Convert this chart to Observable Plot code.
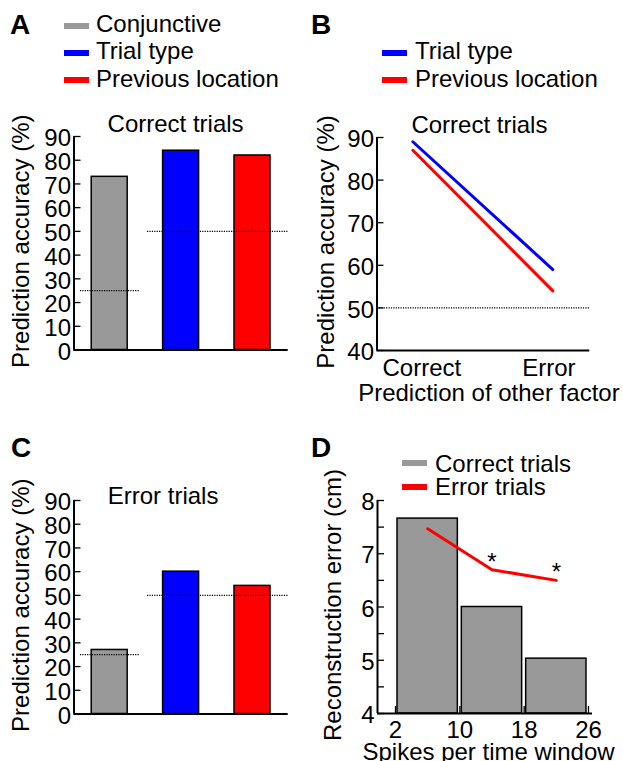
<!DOCTYPE html>
<html><head><meta charset="utf-8">
<script src="https://cdn.jsdelivr.net/npm/d3@7"></script>
<script src="https://cdn.jsdelivr.net/npm/@observablehq/plot@0.6"></script>
<style>
html,body{margin:0;padding:0;background:#fff;}
#root{position:relative;width:623px;height:761px;overflow:hidden;font-family:"Liberation Sans",Arial,sans-serif;color:#000;}
.letter{position:absolute;font-weight:bold;font-size:28px;line-height:28px;}
.leg{position:absolute;font-size:24px;line-height:24px;white-space:nowrap;}
.sw{position:absolute;width:25px;height:6px;}
svg{overflow:visible;}
</style></head><body><div id="root"></div>
<script>
// ---- Data ----
const factors = ["Conjunctive", "Trial type", "Previous location"];
const factorColors = ["#999999", "#0000ff", "#ff0000"];
const correctTrialAcc = [73, 84, 82];
const errorTrialAcc = [27, 60, 54];
const chanceSegments = [
  {level: 25, from: 0.59, to: 1.43},
  {level: 50, from: 1.53, to: 3.5}
];
const accTicks = [0, 10, 20, 30, 40, 50, 60, 70, 80, 90];

const otherFactor = ["Correct", "Error"];
const trialTypeAcc = [89, 59];
const prevLocationAcc = [87, 54];
const bTicks = [40, 50, 60, 70, 80, 90];
const bChance = [50];

const spikeBins = [[2, 10], [10, 18], [18, 26]];
const spikeTicks = [2, 10, 18, 26];
const correctRecon = [7.66, 6.0, 5.03];
const errorRecon = [7.47, 6.7, 6.5];
const significant = [false, true, true];
const reconTicks = [4, 4.5, 5, 5.5, 6, 6.5, 7, 7.5, 8];

const FONT = '"Liberation Sans", Arial, sans-serif';
const root = document.getElementById("root");
const baseStyle = {fontFamily: FONT, fontSize: "24px", background: "transparent", color: "#000", overflow: "visible"};
const dotted = {stroke: "#000", strokeWidth: 1.3, strokeDasharray: "1.2,1.2"};

function place(el, left, top) {
  el.style.position = "absolute";
  el.style.left = left + "px";
  el.style.top = top + "px";
  root.appendChild(el);
}

// ---- Panels A & C ----
function barPanel(values, title, titleDx, titleDy, top, marginTop) {
  const data = factors.map((f, i) => ({factor: f, pos: i + 1, acc: values[i]}));
  const W = 310, ML = 73.5, MR = 310 - 287.7, innerH = 213.5;
  const H = 300 + (marginTop - 36);
  const MB = H - marginTop - innerH;
  const innerW = W - ML - MR;
  return place(Plot.plot({
    width: W, height: H, marginLeft: ML, marginRight: MR, marginTop, marginBottom: MB,
    style: baseStyle,
    x: {type: "linear", domain: [0.5, 3.5], axis: null},
    y: {domain: [0, 90]},
    color: {domain: factors, range: factorColors},
    marks: [
      Plot.rect(data, {x1: d => d.pos - 0.252, x2: d => d.pos + 0.252, y1: 0, y2: "acc", fill: "factor", stroke: "#000", strokeWidth: 1.5}),
      Plot.ruleY(chanceSegments, {y: "level", x1: "from", x2: "to", ...dotted}),
      Plot.ruleY([0], {stroke: "#000", strokeWidth: 2}),
      Plot.ruleX([0.5], {y1: 0, y2: 90, stroke: "#000", strokeWidth: 2}),
      Plot.tickY(accTicks, {y: d => d, insetRight: innerW - 7, stroke: "#000", strokeWidth: 1.3}),
      Plot.axisY(accTicks, {tickSize: 0, tickPadding: 3, dy: 2, label: null}),
      Plot.text([title], {text: d => d, frameAnchor: "top", lineAnchor: "bottom", dx: titleDx, dy: titleDy}),
      Plot.text(["Prediction accuracy (%)"], {text: d => d, frameAnchor: "left", textAnchor: "middle", rotate: -90, lineAnchor: "bottom", dx: -45, dy: -2})
    ]
  }), 0, top);
}
barPanel(correctTrialAcc, "Correct trials", -5.5, -5, 100, 36);
barPanel(errorTrialAcc, "Error trials", -18, 3, 430, 70);

// ---- Panel B ----
(function () {
  const W = 313, ML = 66.5, MR = 313 - 589.3 + 310, MT = 37, H = 310, MB = H - MT - 213;
  const innerW = W - ML - MR;
  const mk = (vals) => otherFactor.map((c, i) => ({c, i, v: vals[i]}));
  place(Plot.plot({
    width: W, height: H, marginLeft: ML, marginRight: MR, marginTop: MT, marginBottom: MB,
    style: baseStyle,
    x: {type: "linear", domain: [-0.256, 1.264], axis: null},
    y: {domain: [40, 90]},
    marks: [
      Plot.ruleY(bChance, {y: d => d, ...dotted}),
      Plot.line(mk(trialTypeAcc), {x: "i", y: "v", stroke: "#0000ff", strokeWidth: 3}),
      Plot.line(mk(prevLocationAcc), {x: "i", y: "v", stroke: "#ff0000", strokeWidth: 3}),
      Plot.ruleY([40], {stroke: "#000", strokeWidth: 2}),
      Plot.ruleX([-0.256], {y1: 40, y2: 90, stroke: "#000", strokeWidth: 2}),
      Plot.tickY(bTicks, {y: d => d, insetRight: innerW - 7, stroke: "#000", strokeWidth: 1.3}),
      Plot.axisY(bTicks, {tickSize: 0, tickPadding: 3, dy: 2, label: null}),
      Plot.axisX([0], {tickSize: 0, tickPadding: 8, tickFormat: i => otherFactor[i], dx: 9, label: null}),
      Plot.axisX([1], {tickSize: 0, tickPadding: 8, tickFormat: i => otherFactor[i], dx: -4, label: null}),
      Plot.text(["Correct trials"], {text: d => d, frameAnchor: "top", lineAnchor: "bottom", dx: -4, dy: -5}),
      Plot.text(["Prediction accuracy (%)"], {text: d => d, frameAnchor: "left", textAnchor: "middle", rotate: -90, lineAnchor: "bottom", dx: -43, dy: -2}),
      Plot.text(["Prediction of other factor"], {text: d => d, frameAnchor: "bottom", lineAnchor: "bottom", dx: 5.5, dy: 50})
    ]
  }), 310, 100);
})();

// ---- Panel D ----
(function () {
  const W = 313, ML = 67, MR = 31, MT = 70, H = 331, MB = H - MT - 213;
  const innerW = W - ML - MR, innerH = 213;
  const bars = spikeBins.map((b, i) => ({x1: b[0], x2: b[1], mid: (b[0] + b[1]) / 2, c: correctRecon[i], e: errorRecon[i], sig: significant[i]}));
  place(Plot.plot({
    width: W, height: H, marginLeft: ML, marginRight: MR, marginTop: MT, marginBottom: MB,
    style: baseStyle,
    x: {type: "linear", domain: [-0.24, 26.5], axis: null},
    y: {domain: [4, 8]},
    marks: [
      Plot.rect(bars, {x1: "x1", x2: "x2", y1: 4, y2: "c", insetLeft: 2, insetRight: 2, fill: "#999999", stroke: "#000", strokeWidth: 1.5}),
      Plot.line(bars, {x: "mid", y: "e", stroke: "#ff0000", strokeWidth: 3}),
      Plot.text(bars.filter(d => d.sig), {x: "mid", y: "e", text: () => "*", lineAnchor: "bottom"}),
      Plot.ruleY([4], {stroke: "#000", strokeWidth: 2}),
      Plot.ruleX([-0.24], {y1: 4, y2: 8, stroke: "#000", strokeWidth: 2}),
      Plot.tickY(reconTicks, {y: d => d, insetRight: innerW - 7, stroke: "#000", strokeWidth: 1.3}),
      Plot.tickX(spikeTicks, {x: d => d, insetTop: innerH - 7, stroke: "#000", strokeWidth: 1.3}),
      Plot.axisY(reconTicks, {tickSize: 0, tickPadding: 3, dy: 2, label: null, tickFormat: d => Number.isInteger(d) ? String(d) : ""}),
      Plot.axisX(spikeTicks, {tickSize: 0, tickPadding: 7, label: null}),
      Plot.text(["Reconstruction error (cm)"], {text: d => d, frameAnchor: "left", textAnchor: "middle", rotate: -90, lineAnchor: "bottom", dx: -37, dy: -2}),
      Plot.text(["Spikes per time window"], {text: d => d, frameAnchor: "bottom", lineAnchor: "bottom", dx: 3.5, dy: 46})
    ]
  }), 310, 430);
})();

// ---- Legends & panel letters ----
function letter(t, left, top) {
  const d = document.createElement("div");
  d.className = "letter"; d.textContent = t;
  d.style.left = left + "px"; d.style.top = top + "px";
  root.appendChild(d);
}
function legendRow(label, color, swLeft, swTop, txLeft, txTop) {
  const s = document.createElement("div");
  s.className = "sw"; s.style.background = color;
  s.style.left = swLeft + "px"; s.style.top = swTop + "px";
  root.appendChild(s);
  const t = document.createElement("div");
  t.className = "leg"; t.textContent = label;
  t.style.left = txLeft + "px"; t.style.top = txTop + "px";
  root.appendChild(t);
}
letter("A", 10, 11.3);
letter("B", 311, 11.3);
letter("C", 11, 433.5);
letter("D", 311, 433.5);

const rowSw = [22.5, 50, 77], rowTx = [12.2, 38.7, 66.7];
factors.forEach((f, i) => legendRow(f, factorColors[i], 63.5, rowSw[i], 96, rowTx[i]));
[1, 2].forEach((i) => legendRow(factors[i], factorColors[i], 382, rowSw[i], 415, rowTx[i]));

const dLegend = ["Correct trials", "Error trials"];
const dLegendColors = ["#999999", "#ff0000"];
dLegend.forEach((l, i) => legendRow(l, dLegendColors[i], 402, [460, 484][i], 435, [451.7, 475.2][i]));
</script></body></html>
